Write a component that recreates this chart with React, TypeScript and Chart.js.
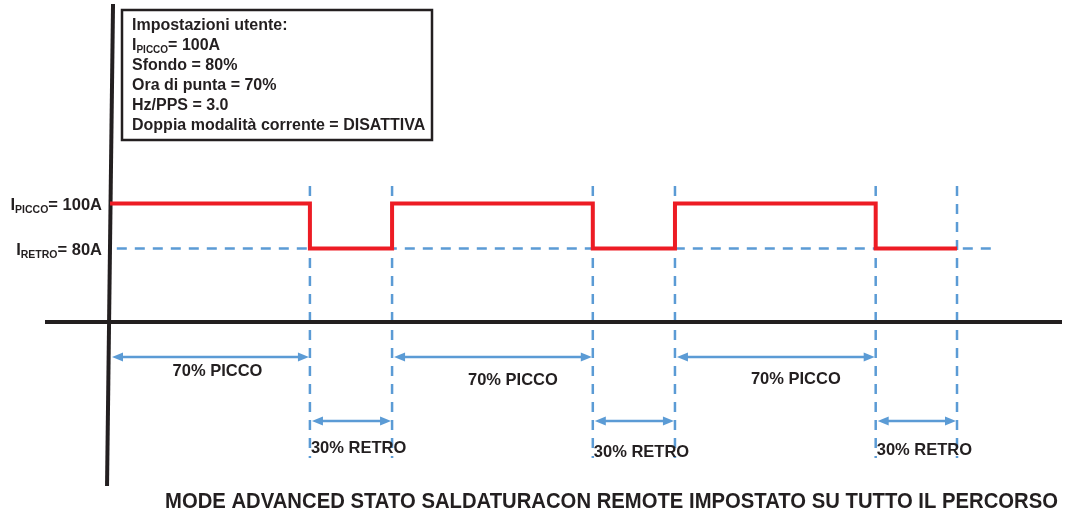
import React, { useEffect, useRef } from "react";
import { Chart, registerables } from "chart.js";

Chart.register(...registerables);

// ---- data (time in ms, current in A) ----
const stepTimes = [0, 236, 333, 570, 667, 904, 1000];
const stepCurrents = [100, 80, 100, 80, 100, 80, 80];
const peakCurrent = 100;
const retroCurrent = 80;
const peakStarts = [0, 333, 667];
const peakEnds = [236, 570, 904];
const retroEnds = [333, 667, 1000];
const retroLineSpan = [8, 1041];
const peakLabel = "70% PICCO";
const retroLabel = "30% RETRO";
const settingsTitle = "Impostazioni utente:";
const settingsRest = ["Sfondo = 80%", "Ora di punta = 70%", "Hz/PPS = 3.0", "Doppia modalità corrente = DISATTIVA"];
const chartTitle = "MODE ADVANCED STATO SALDATURACON REMOTE IMPOSTATO SU TUTTO IL PERCORSO";

const RED = "#ED1C24";
const BLUE = "#5B9BD5";
const BLACK = "#231F20";
const FONT = '"Liberation Sans", Arial, sans-serif';

function drawSubLabel(ctx: CanvasRenderingContext2D, main: string, sub: string, rest: string, x: number, y: number, size: number, subSize: number, align: "left" | "right") {
  ctx.font = `bold ${size}px ${FONT}`;
  const w1 = ctx.measureText(main).width;
  const w3 = ctx.measureText(rest).width;
  ctx.font = `bold ${subSize}px ${FONT}`;
  const w2 = ctx.measureText(sub).width;
  const total = w1 + w2 + w3;
  const sx = align === "right" ? x - total : x;
  ctx.textAlign = "left";
  ctx.textBaseline = "alphabetic";
  ctx.font = `bold ${size}px ${FONT}`;
  ctx.fillText(main, sx, y);
  ctx.font = `bold ${subSize}px ${FONT}`;
  ctx.fillText(sub, sx + w1, y + 3);
  ctx.font = `bold ${size}px ${FONT}`;
  ctx.fillText(rest, sx + w1 + w2, y);
}

function drawArrow(ctx: CanvasRenderingContext2D, x1: number, x2: number, y: number) {
  const head = 11;
  const half = 4.5;
  ctx.strokeStyle = BLUE;
  ctx.fillStyle = BLUE;
  ctx.lineWidth = 2.5;
  ctx.setLineDash([]);
  ctx.beginPath();
  ctx.moveTo(x1 + head - 2, y);
  ctx.lineTo(x2 - head + 2, y);
  ctx.stroke();
  ctx.beginPath();
  ctx.moveTo(x1, y);
  ctx.lineTo(x1 + head, y - half);
  ctx.lineTo(x1 + head, y + half);
  ctx.closePath();
  ctx.fill();
  ctx.beginPath();
  ctx.moveTo(x2, y);
  ctx.lineTo(x2 - head, y - half);
  ctx.lineTo(x2 - head, y + half);
  ctx.closePath();
  ctx.fill();
}

const diagramPlugin = {
  id: "diagram",
  beforeDatasetsDraw(chart: any) {
    const ctx: CanvasRenderingContext2D = chart.ctx;
    const xs = chart.scales.x;
    ctx.save();
    // vertical dashed markers
    ctx.strokeStyle = BLUE;
    ctx.lineWidth = 2.5;
    ctx.setLineDash([10, 8]);
    const marks = [...peakEnds, ...retroEnds];
    marks.forEach((t) => {
      const px = xs.getPixelForValue(t);
      ctx.beginPath();
      ctx.moveTo(px, 186);
      ctx.lineTo(px, 458);
      ctx.stroke();
    });
    ctx.setLineDash([]);
    // axes
    const x0 = xs.getPixelForValue(0);
    ctx.strokeStyle = BLACK;
    ctx.lineWidth = 4;
    ctx.beginPath();
    ctx.moveTo(x0 + 3, 4);
    ctx.lineTo(x0 - 3, 486);
    ctx.stroke();
    ctx.beginPath();
    ctx.moveTo(45, 322);
    ctx.lineTo(1062, 322);
    ctx.stroke();
    ctx.restore();
  },
  afterDatasetsDraw(chart: any) {
    const ctx: CanvasRenderingContext2D = chart.ctx;
    const xs = chart.scales.x;
    const ys = chart.scales.y;
    ctx.save();
    // arrows & labels
    const peakLabelDx = [7, 20, 20];
    const peakLabelY = [371, 380, 379];
    const retroLabelY = [448, 452, 450];
    peakStarts.forEach((t, i) => {
      const a = xs.getPixelForValue(t) + 2;
      const b = xs.getPixelForValue(peakEnds[i]) - 1;
      drawArrow(ctx, a, b, 357);
      ctx.fillStyle = BLACK;
      ctx.font = `bold 16.5px ${FONT}`;
      ctx.textAlign = "center";
      ctx.textBaseline = "middle";
      ctx.fillText(peakLabel, (a + b) / 2 + peakLabelDx[i], peakLabelY[i]);
    });
    peakEnds.forEach((t, i) => {
      const a = xs.getPixelForValue(t) + 2;
      const b = xs.getPixelForValue(retroEnds[i]) - 1;
      drawArrow(ctx, a, b, 421);
      ctx.fillStyle = BLACK;
      ctx.font = `bold 16.5px ${FONT}`;
      ctx.textAlign = "left";
      ctx.textBaseline = "middle";
      ctx.fillText(retroLabel, a - 1, retroLabelY[i]);
    });
    // level labels
    ctx.fillStyle = BLACK;
    drawSubLabel(ctx, "I", "PICCO", "= 100A", 102, ys.getPixelForValue(peakCurrent) + 7, 16.5, 10.5, "right");
    drawSubLabel(ctx, "I", "RETRO", "= 80A", 102, ys.getPixelForValue(retroCurrent) + 7, 16.5, 10.5, "right");
    // settings box
    ctx.fillStyle = "#ffffff";
    ctx.fillRect(122, 10, 310, 130);
    ctx.strokeStyle = BLACK;
    ctx.lineWidth = 2.5;
    ctx.strokeRect(122, 10, 310, 130);
    ctx.fillStyle = BLACK;
    ctx.font = `bold 16px ${FONT}`;
    ctx.textAlign = "left";
    ctx.textBaseline = "alphabetic";
    ctx.fillText(settingsTitle, 132, 30);
    drawSubLabel(ctx, "I", "PICCO", `= ${peakCurrent}A`, 132, 50, 16, 10, "left");
    ctx.font = `bold 16px ${FONT}`;
    settingsRest.forEach((s, i) => ctx.fillText(s, 132, 70 + i * 20, 294));
    // title
    ctx.font = `bold 22px ${FONT}`;
    ctx.textAlign = "left";
    ctx.textBaseline = "middle";
    ctx.fillText(chartTitle, 165, 502, 893);
    ctx.restore();
  },
};

export default function App() {
  const ref = useRef<HTMLCanvasElement | null>(null);
  useEffect(() => {
    if (!ref.current) return;
    const chart = new Chart(ref.current, {
      type: "line",
      data: {
        datasets: [
          {
            label: "Corrente",
            data: stepTimes.map((t, i) => ({ x: t, y: stepCurrents[i] })),
            borderColor: RED,
            borderWidth: 4,
            stepped: "before",
            pointRadius: 0,
            fill: false,
          },
          {
            label: "I retro",
            data: retroLineSpan.map((t) => ({ x: t, y: retroCurrent })),
            borderColor: BLUE,
            borderWidth: 2.5,
            borderDash: [10, 8],
            pointRadius: 0,
            fill: false,
          },
        ],
      },
      options: {
        animation: false,
        responsive: false,
        maintainAspectRatio: false,
        layout: { padding: 0 },
        plugins: { legend: { display: false }, tooltip: { enabled: false }, title: { display: false } },
        scales: {
          x: { type: "linear", min: -129.9, max: 1127.5, display: false },
          y: { type: "linear", min: -38.9, max: 190.44, display: false },
        },
      },
      plugins: [diagramPlugin],
    });
    return () => chart.destroy();
  }, []);
  return (
    <div style={{ position: "fixed", left: 0, top: 0, width: 1065, height: 516, background: "#fff" }}>
      <canvas ref={ref} width={1065} height={516} style={{ display: "block" }} />
    </div>
  );
}
